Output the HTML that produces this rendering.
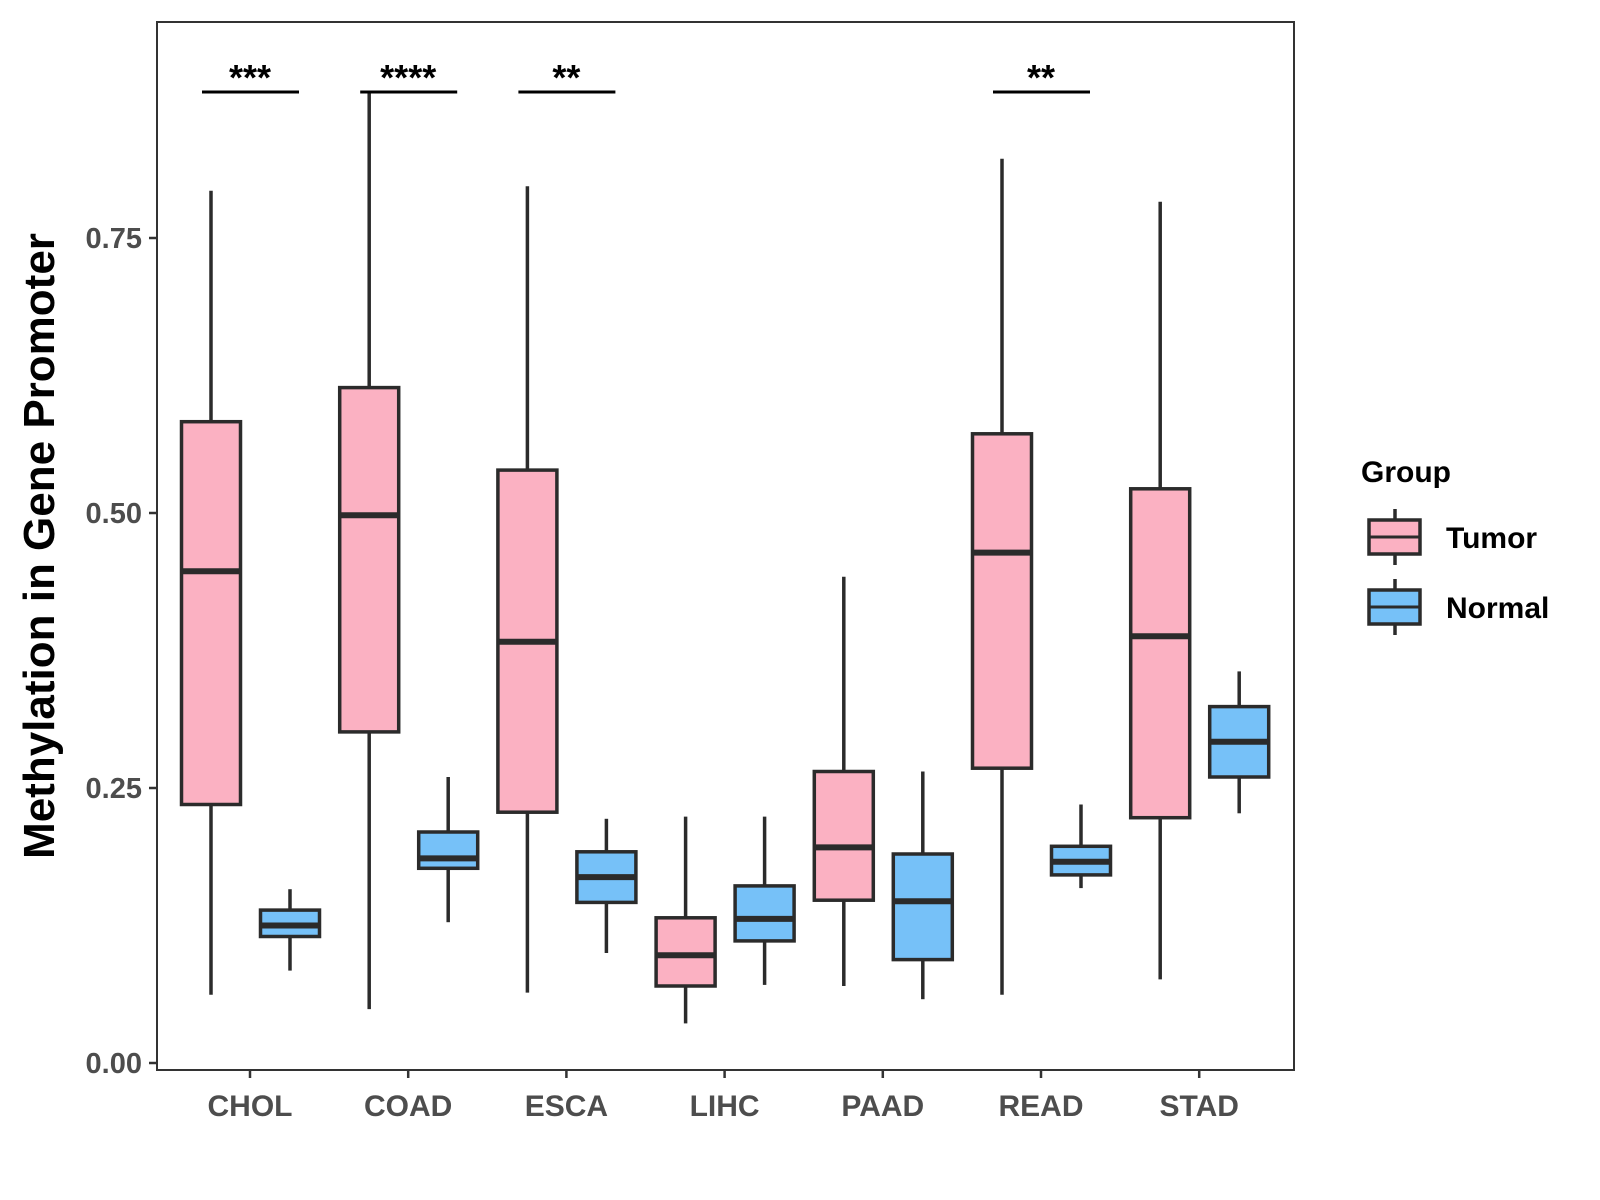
<!DOCTYPE html>
<html><head><meta charset="utf-8"><style>
html,body{margin:0;padding:0;background:#fff}
svg{display:block;font-family:"Liberation Sans",Arial,sans-serif}
</style></head><body>
<svg id="chart" width="1600" height="1200" viewBox="0 0 1600 1200">
<rect x="0" y="0" width="1600" height="1200" fill="#fff"/>
<g id="plot"></g>
</svg>
<script>
const categories = ["CHOL","COAD","ESCA","LIHC","PAAD","READ","STAD"];
// [low, q1, median, q3, high]
const tumorStats = [
 [0.062,0.235,0.447,0.583,0.793],
 [0.049,0.301,0.498,0.614,0.884],
 [0.064,0.228,0.383,0.539,0.797],
 [0.036,0.070,0.098,0.132,0.224],
 [0.070,0.148,0.196,0.265,0.442],
 [0.062,0.268,0.464,0.572,0.822],
 [0.076,0.223,0.388,0.522,0.783]
];
const normalStats = [
 [0.084,0.115,0.125,0.139,0.158],
 [0.128,0.177,0.186,0.210,0.260],
 [0.100,0.146,0.169,0.192,0.222],
 [0.071,0.111,0.131,0.161,0.224],
 [0.058,0.094,0.147,0.190,0.265],
 [0.159,0.171,0.183,0.197,0.235],
 [0.227,0.260,0.292,0.324,0.356]
];
const yTicks = [0, 0.25, 0.5, 0.75];
const yTickLabels = ["0.00","0.25","0.50","0.75"];
const sigLabels = ["***","****","**","","","**",""];

const NS="http://www.w3.org/2000/svg";
const L=157,T=22,R=1294,B=1070;
const y0=1063, yPerUnit=1100;
const yScale=v=>y0-v*yPerUnit;
const xStart=250, xStep=158.2;
const xScale=i=>xStart+i*xStep;
const g=document.getElementById('plot');
function mk(tag,attrs,parent){const e=document.createElementNS(NS,tag);for(const k in attrs)e.setAttribute(k,attrs[k]);(parent||g).appendChild(e);return e;}

const panel=mk('rect',{x:L,y:T,width:R-L,height:B-T,fill:'none',stroke:'#333','stroke-width':2});



yTicks.forEach((v,i)=>{
 const y=yScale(v);
 const t=mk('line',{x1:L-8,x2:L,y1:y,y2:y,stroke:'#333','stroke-width':2.5});
 
 
 const tx=mk('text',{x:L-15,y:y+10,'text-anchor':'end','font-size':29,'font-weight':'bold',fill:'#4d4d4d'});
 tx.textContent=yTickLabels[i];
 
 
});
categories.forEach((c,i)=>{
 const x=xScale(i);
 const t=mk('line',{x1:x,x2:x,y1:B,y2:B+8,stroke:'#333','stroke-width':2.5});
 
 
 const tx=mk('text',{x:x,y:1116,'text-anchor':'middle','font-size':30,'font-weight':'bold',fill:'#4d4d4d'});
 tx.textContent=c;
 
 
});

function box(cx,s,fill,name){
 const w=59;
 const grp=mk('g',{});
 
 
 mk('line',{x1:cx,x2:cx,y1:yScale(s[0]),y2:yScale(s[1]),stroke:'#2b2b2b','stroke-width':3.5},grp);
 mk('line',{x1:cx,x2:cx,y1:yScale(s[3]),y2:yScale(s[4]),stroke:'#2b2b2b','stroke-width':3.5},grp);
 mk('rect',{x:cx-w/2,y:yScale(s[3]),width:w,height:yScale(s[1])-yScale(s[3]),fill:fill,stroke:'#2b2b2b','stroke-width':3.5},grp);
 mk('line',{x1:cx-w/2,x2:cx+w/2,y1:yScale(s[2]),y2:yScale(s[2]),stroke:'#2b2b2b','stroke-width':6},grp);
}
categories.forEach((c,i)=>{
 box(xScale(i)-39,tumorStats[i],'#fbb1c2','box-tumor-'+c.toLowerCase());
 box(xScale(i)+40,normalStats[i],'#76c1f8','box-normal-'+c.toLowerCase());
 if(sigLabels[i]){
  const x=xScale(i);
  const l=mk('line',{x1:x-48,x2:x+49,y1:92,y2:92,stroke:'#000','stroke-width':3});
  
  
  const t=mk('text',{x:x,y:90,'text-anchor':'middle','font-size':36,'font-weight':'bold',fill:'#000'});
  t.textContent=sigLabels[i];
  
  
 }
});

const yt=mk('text',{x:0,y:0,transform:'translate(54,546) rotate(-90)','text-anchor':'middle','font-size':44,'font-weight':'bold',fill:'#000'});
yt.textContent='Methylation in Gene Promoter';



const lt=mk('text',{x:1361,y:482,'font-size':30,'font-weight':'bold',fill:'#000'});
lt.textContent='Group';


[['Tumor','#fbb1c2',537],['Normal','#76c1f8',607]].forEach(([name,col,cy])=>{
 const lg=mk('g',{});
 
 
 const cx=1395;
 mk('line',{x1:cx,x2:cx,y1:cy-28,y2:cy+28,stroke:'#2b2b2b','stroke-width':3.5},lg);
 mk('rect',{x:1369,y:cy-17,width:51,height:34,fill:col,stroke:'#2b2b2b','stroke-width':3.5},lg);
 mk('line',{x1:1369,x2:1420,y1:cy,y2:cy,stroke:'#2b2b2b','stroke-width':3},lg);
 const t=mk('text',{x:1446,y:cy+11,'font-size':30,'font-weight':'bold',fill:'#000'},lg);
 t.textContent=name;
});
</script>
</body></html>
